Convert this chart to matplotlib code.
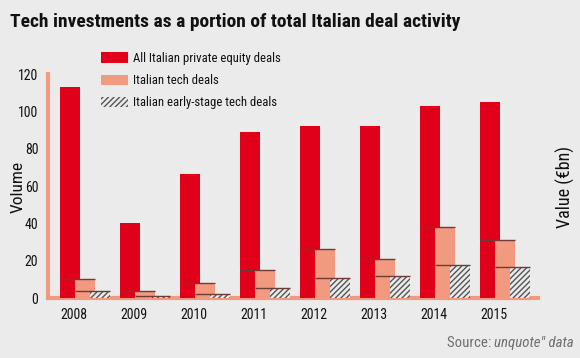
import matplotlib
matplotlib.use("Agg")
import matplotlib.pyplot as plt
import numpy as np

years = ["2008", "2009", "2010", "2011", "2012", "2013", "2014", "2015"]
all_pe = [113, 40, 66.5, 89, 92, 92, 103, 105]
tech = [10, 4, 8, 15, 26, 21, 38, 31]
early = [4, 1, 2, 5.6, 10.6, 11.7, 17.7, 16.7]

plt.rcParams['font.family'] = ['Roboto Condensed', 'DejaVu Sans']
plt.rcParams['hatch.color'] = '#555555'
plt.rcParams['hatch.linewidth'] = 1.0

BG = '#ebebeb'
RED = '#e10019'
SALMON = '#f19a7f'
LINE = '#6e3c36'

W, H = 580, 358
fig = plt.figure(figsize=(5.8, 3.58), dpi=100, facecolor=BG)
ax = fig.add_axes([48 / W, 1 - 298 / H, 490 / W, 224 / H], facecolor=BG)

x = np.arange(len(years))
w = 0.33
off_r, off_s, off_h = -0.07, 0.18, 0.43

ax.bar(x + off_r, all_pe, w, color=RED, zorder=2, label="All Italian private equity deals")
ax.bar(x + off_s, tech, w, color=SALMON, zorder=3, label="Italian tech deals")
ax.bar(x + off_h, early, w, facecolor=BG, edgecolor='#555555', hatch='//////', linewidth=0,
       zorder=4, label="Italian early-stage tech deals")
ax.hlines(tech, x + off_r - w / 2, x + off_s + w / 2, color=LINE, linewidth=1, zorder=5)
ax.hlines(early, x + off_s - w / 2, x + off_h + w / 2, color=LINE, linewidth=1, zorder=5)

ax.set_xlim(-0.433, 7.733)
ax.set_ylim(0, 120)
ax.set_xticks(x)
ax.set_xticklabels(years)
ax.set_yticks(np.arange(0, 121, 20))
ax.tick_params(length=0, labelsize=10, pad=7, labelcolor='#111111')
for s in ['top', 'right']:
    ax.spines[s].set_visible(False)
for s in ['left', 'bottom']:
    ax.spines[s].set_color(SALMON)
    ax.spines[s].set_linewidth(3)
    ax.spines[s].set_zorder(1)

fig.text(18 / W, 1 - 187 / H, "Volume", rotation=90, fontsize=12.5, ha='center', va='center',
         color='#111111')
fig.text(565 / W, 1 - 187 / H, "Value (€bn)", rotation=90, fontsize=13, ha='center',
         va='center', color='#111111')

leg = fig.legend(*ax.get_legend_handles_labels(), loc='upper left',
                 bbox_to_anchor=(101 / W, 1 - 52 / H), frameon=False, fontsize=9.2,
                 handlelength=2.15, handleheight=0.85, labelspacing=0.72, handletextpad=0.35,
                 borderpad=0, borderaxespad=0)
for t in leg.get_texts():
    t.set_color('#111111')

fig.text(10 / W, 1 - 22 / H, "Tech investments as a portion of total Italian deal activity",
         fontsize=14, fontweight='bold', ha='left', va='center', color='#111111')

t1 = fig.text(574 / W, 1 - 343 / H, "unquote\" data", fontsize=10.7, color='#6f6f6f',
              ha='right', va='center', style='italic')
fig.canvas.draw()
bb = t1.get_window_extent()
fig.text(bb.x0 / W, 1 - 343 / H, "Source: ", fontsize=10.7, color='#6f6f6f', ha='right',
         va='center')

fig.savefig("out.png", dpi=100, facecolor=BG)
